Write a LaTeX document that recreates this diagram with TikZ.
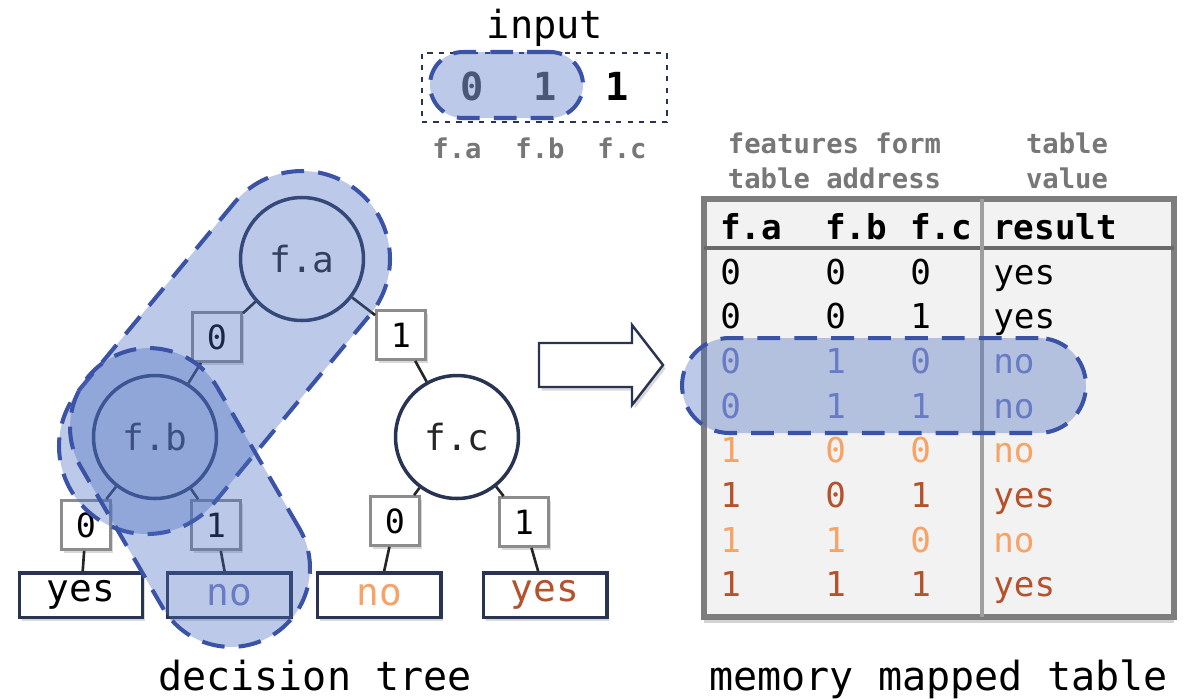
\documentclass[tikz,border=0pt]{standalone}
\usepackage{fontspec}
\setmonofont{DejaVu Sans Mono}
\usetikzlibrary{positioning,shadows}
\definecolor{treenavy}{HTML}{283452}
\definecolor{hlblue}{HTML}{4A6CC0}
\definecolor{hldash}{HTML}{3A53A6}
\definecolor{noblue}{HTML}{7A84C8}
\definecolor{noorange}{HTML}{F8A266}
\definecolor{yesred}{HTML}{B5522B}
\definecolor{labelgray}{HTML}{777777}
\definecolor{tablebg}{HTML}{F1F2F1}
\definecolor{tableline}{HTML}{7D7D7D}

\begin{document}
\begin{tikzpicture}[x=0.02cm,y=-0.02cm,
        boxshadow/.style={drop shadow={shadow xshift=1.5pt,shadow yshift=-2pt,opacity=.3}},
        fnode/.style={circle,draw=treenavy,line width=2pt,fill=white,minimum size=2.46cm,inner sep=0pt,
          font=\ttfamily\fontsize{20.5}{24}\selectfont,text=black!85},
        edgelab/.style={boxshadow,draw=gray!90,line width=1.6pt,fill=white,minimum width=0.98cm,
          minimum height=0.98cm,inner sep=0pt,font=\ttfamily\fontsize{19}{22}\selectfont},
        leaf/.style={boxshadow,draw=treenavy,line width=2pt,fill=white,minimum width=2.47cm,
          minimum height=0.89cm,inner sep=0pt,font=\ttfamily\fontsize{21.5}{24}\selectfont},
        branch/.style={line width=1.5pt,draw=black!85},
        hilite/.style={draw=hldash,line width=2.3pt,dash pattern=on 13pt off 8pt,
          fill=hlblue,fill opacity=.37,inner sep=0pt},
        smalllab/.style={font=\ttfamily\bfseries\fontsize{15.5}{18}\selectfont,text=labelgray,anchor=base},
        indigit/.style={font=\ttfamily\bfseries\fontsize{22}{26}\selectfont,anchor=base},
        title/.style={font=\ttfamily\fontsize{22.8}{26}\selectfont,anchor=base},
        cell/.style={font=\ttfamily\fontsize{19.5}{22}\selectfont,anchor=base west,inner sep=0pt}
      ]
        \useasboundingbox (0,0) rectangle (1185,698);

        % input vector
        \node[font=\ttfamily\fontsize{22}{26}\selectfont,anchor=base] (inlabel) at (545,38) {input};
        \node[draw=treenavy,line width=1.2pt,dash pattern=on 3pt off 3.5pt,
          minimum width=4.9cm,minimum height=1.38cm] (inbox) at (544.5,87.5) {};
        \node[indigit,text=black!70] (ina) at (472,100) {0};
        \node[indigit,text=black!70] (inb) at (545,100) {1};
        \node[indigit] (inc) at (617,100) {1};
        \node[smalllab] (fatag) at (457,158) {f.a};
        \node[smalllab] (fbtag) at (540,158) {f.b};
        \node[smalllab] (fctag) at (622,158) {f.c};

        % decision tree
        \node[fnode] (fa) at (302,259) {f.a};
        \node[fnode] (fb) at (155,437) {f.b};
        \node[fnode] (fc) at (457,437) {f.c};
        \node[edgelab] (fa0) at (217,337) {0};
        \node[edgelab] (fa1) at (401,335) {1};
        \node[edgelab] (fb0) at (86,525) {0};
        \node[edgelab] (fb1) at (216,525) {1};
        \node[edgelab] (fc0) at (395,521) {0};
        \node[edgelab] (fc1) at (524,522) {1};
        \node[leaf] (yes1) at (81,595) {yes};
        \node[leaf,text=noblue] (no1) at (229,595) {no};
        \node[leaf,text=noorange] (no2) at (379,595) {no};
        \node[leaf,text=yesred] (yes2) at (545,595) {yes};

        \draw[branch] (fa) -- (fa0) -- (fb);
        \draw[branch] (fa) -- (fa1) -- (fc);
        \draw[branch] (fb) -- (fb0) -- (yes1);
        \draw[branch] (fb) -- (fb1) -- (no1);
        \draw[branch] (fc) -- (fc0) -- (no2);
        \draw[branch] (fc) -- (fc1) -- (yes2);

        % block arrow
        \draw[treenavy,line width=1.4pt,fill=white,boxshadow]
          (539,343) -- (632,343) -- (632,325) -- (663,365) -- (632,405) -- (632,387) -- (539,387) -- cycle;

        % memory table
        \node[smalllab] (addrtop) at (834.5,153) {features form};
        \node[smalllab] (addrbot) at (834.5,188) {table address};
        \node[smalllab] (valtop) at (1067,153) {table};
        \node[smalllab] (valbot) at (1067,188) {value};
        \node[draw=tableline,line width=3.4pt,fill=tablebg,minimum width=9.4cm,minimum height=8.37cm,
          drop shadow={shadow xshift=0pt,shadow yshift=-3pt,opacity=.35}] (tbl) at (939,408) {};
        \draw[tableline!85!black,line width=2.2pt] (704,248) -- (1174,248);
        \draw[gray!75,line width=2pt] (982,199) -- (982,617);
        \node[cell,font=\ttfamily\bfseries\fontsize{19.5}{22}\selectfont] (ha) at (720,239) {f.a};
        \node[cell,font=\ttfamily\bfseries\fontsize{19.5}{22}\selectfont] (hb) at (825,239) {f.b};
        \node[cell,font=\ttfamily\bfseries\fontsize{19.5}{22}\selectfont] (hc) at (910,239) {f.c};
        \node[cell,font=\ttfamily\bfseries\fontsize{19.5}{22}\selectfont] (hres) at (993,239) {result};
        \foreach \va/\vb/\vc/\res/\clr [count=\i] in {0/0/0/yes/black,0/0/1/yes/black,0/1/0/no/noblue,
            0/1/1/no/noblue,1/0/0/no/noorange,1/0/1/yes/yesred,1/1/0/no/noorange,1/1/1/yes/yesred}{
          \pgfmathsetmacro\rowy{284+44.7*(\i-1)}
          \node[cell,text=\clr] (ra\i) at (720,\rowy) {\va};
          \node[cell,text=\clr] (rb\i) at (825,\rowy) {\vb};
          \node[cell,text=\clr] (rc\i) at (910,\rowy) {\vc};
          \node[cell,text=\clr] (rres\i) at (993,\rowy) {\res};
        }

        \node[title] (treetitle) at (315,690) {decision tree};
        \node[title] (tabletitle) at (938.5,690) {memory mapped table};

        % highlighted lookup
        \node[hilite,rounded corners=0.66cm,minimum width=3.06cm,minimum height=1.32cm] (inpill) at (506.5,85) {};
        \node[hilite,rounded corners=1.76cm,minimum width=8.38cm,minimum height=3.52cm,rotate=50.35] (pathab) at (224.5,352.5) {};
        \node[hilite,rounded corners=1.58cm,minimum width=6.42cm,minimum height=3.16cm,rotate=-59.8] (pathbno) at (190,497.5) {};
        \node[hilite,rounded corners=0.95cm,minimum width=8.08cm,minimum height=1.9cm] (rowpill) at (884,385.5) {};
      \end{tikzpicture}
\end{document}
